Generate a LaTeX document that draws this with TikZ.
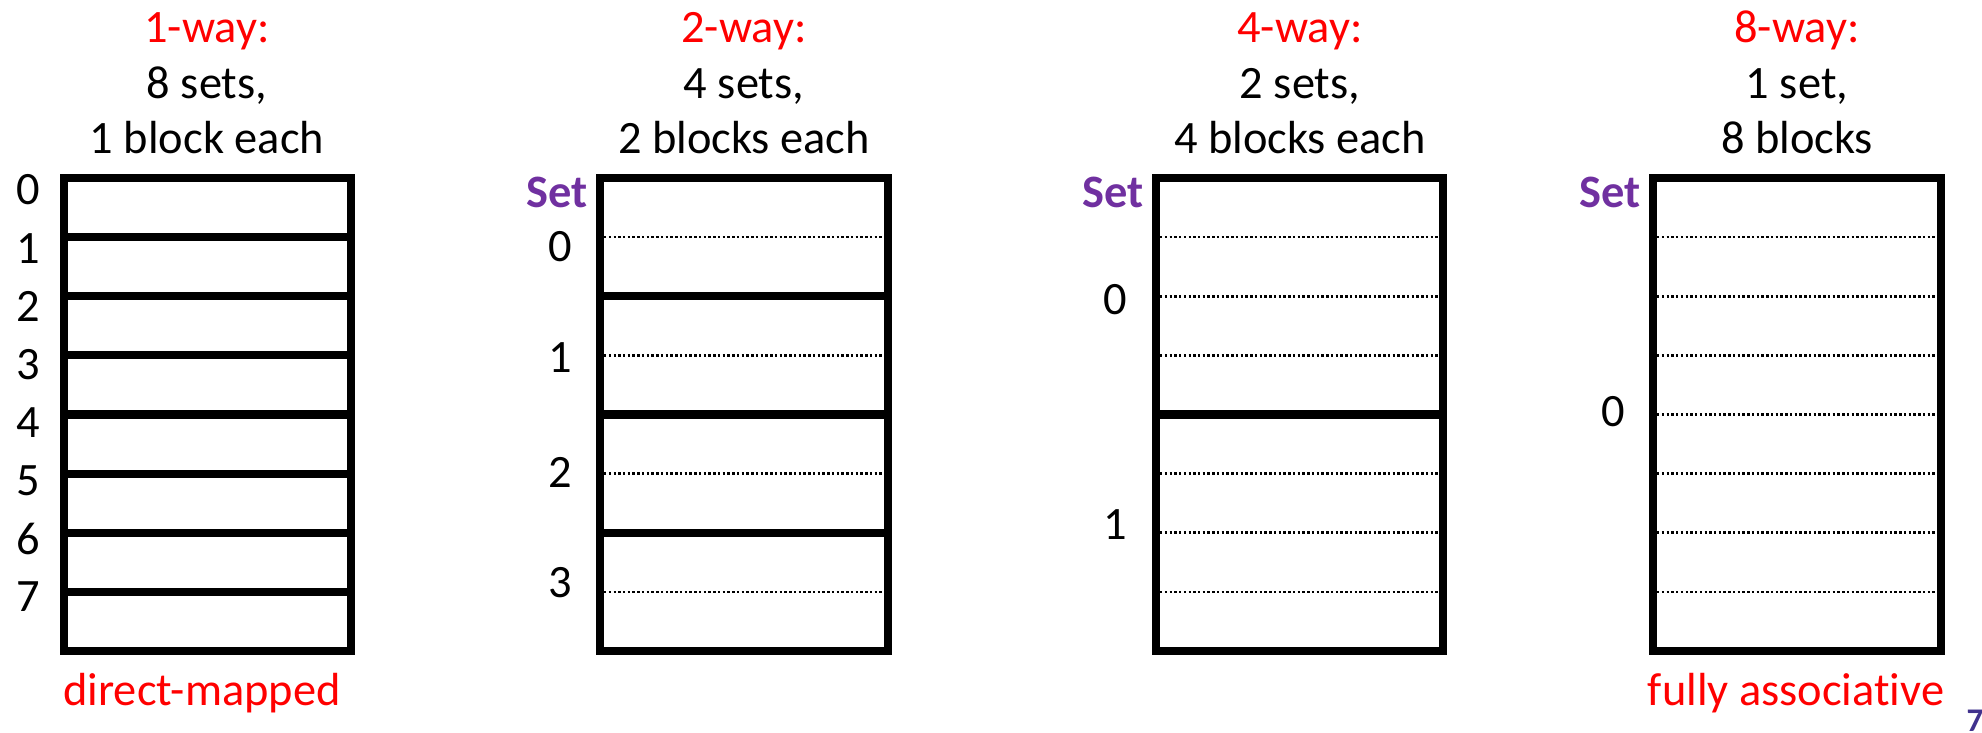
\documentclass[tikz,border=0pt]{standalone}
\usepackage{fontspec}
\setmainfont[Ligatures=NoCommon]{Carlito}
\usetikzlibrary{positioning}

\definecolor{wayred}{RGB}{255,0,0}
\definecolor{setpurple}{RGB}{112,48,160}
\definecolor{pagepurple}{RGB}{64,49,141}

\tikzset{
  blockline/.style={line width=2.3pt},
  wayline/.style={line width=0.75pt, dash pattern=on 0.7pt off 0.65pt},
  lbl/.style={inner sep=0pt, font=\fontsize{13.2}{15}\selectfont},
  setlbl/.style={lbl, text=setpurple, font=\fontsize{13.2}{15}\selectfont\bfseries},
}

\begin{document}
\begin{tikzpicture}[x=0.01cm,y=-0.01cm]
\useasboundingbox (0,0) rectangle (1982,732);

% titles
\foreach \i/\cx/\way/\sets/\blocks in {1/207/{1-way:}/{8 sets,}/{1 block each},
    2/744/{2-way:}/{4 sets,}/{2 blocks each},
    3/1300/{4-way:}/{2 sets,}/{4 blocks each},
    4/1797/{8-way:}/{1 set,}/{8 blocks}} {
  \node[lbl, anchor=base, text=wayred] (way\i) at (\cx,42) {\way};
  \node[lbl, anchor=base] (sets\i) at (\cx,98) {\sets};
  \node[lbl, anchor=base] (blocks\i) at (\cx,153) {\blocks};
}

% caches: thick line between sets, dotted between blocks of one set
\foreach \i/\l/\r/\n in {1/64/351/1, 2/600/888/2, 3/1156/1443/4, 4/1653/1941/8} {
  \foreach \k in {1,...,7} {
    \pgfmathtruncatemacro{\m}{mod(\k,\n)}
    \ifnum\m=0
      \draw[blockline] (\l,178+59.125*\k) -- (\r,178+59.125*\k);
    \else
      \draw[wayline] (\l+4,178+59.125*\k) -- (\r-4,178+59.125*\k);
    \fi
  }
  \draw[blockline] (\l,178) rectangle (\r,651);
}

% set numbers
\foreach \k in {0,...,7}
  \node[lbl] (dm\k) at (28,190+58.1*\k) {\k};
\foreach \k/\y in {0/247, 1/358, 2/472, 3/583}
  \node[lbl] (tw\k) at (560,\y) {\k};
\foreach \k/\y in {0/300, 1/525}
  \node[lbl] (fw\k) at (1115,\y) {\k};
\node[lbl] (ew0) at (1613,412) {0};

\node[setlbl, anchor=east] (set2) at (588,192) {Set};
\node[setlbl, anchor=east] (set3) at (1144,192) {Set};
\node[setlbl, anchor=east] (set4) at (1641,192) {Set};

% bottom
\node[lbl, anchor=base, text=wayred] (direct) at (202,705) {direct-mapped};
\node[lbl, anchor=base, text=wayred] (fully) at (1796,705) {fully associative};
\node[inner sep=0pt, anchor=base, text=pagepurple, font=\fontsize{9.4}{11}\selectfont\bfseries] (page) at (1975,731) {7};

\end{tikzpicture}
\end{document}
